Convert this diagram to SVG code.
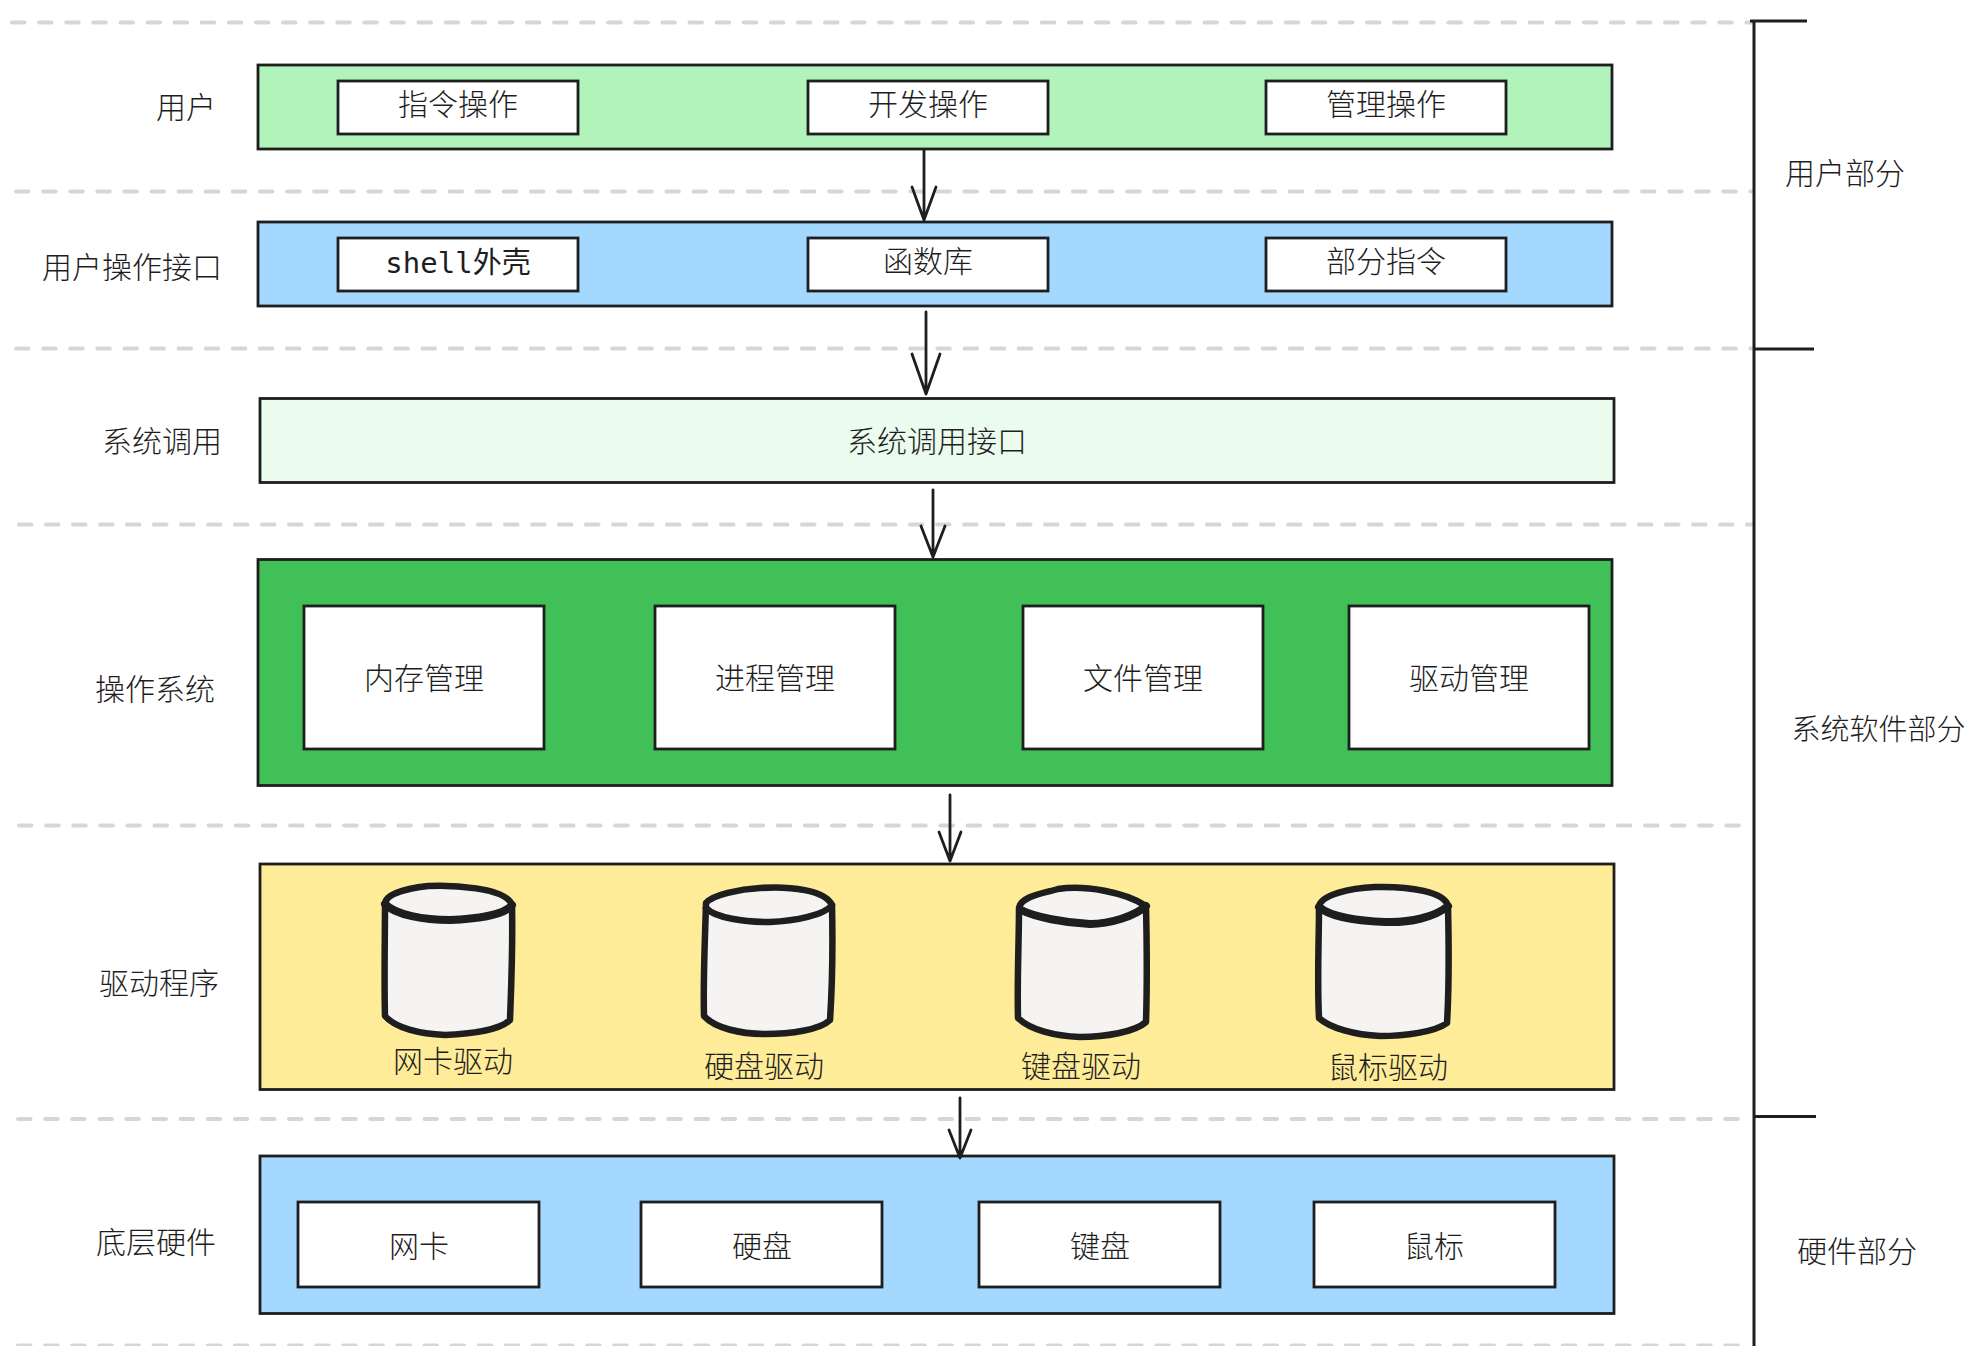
<svg xmlns="http://www.w3.org/2000/svg" width="1966" height="1346" viewBox="0 0 1966 1346">
<style>
text{font-family:"Noto Sans CJK SC","Noto Sans",sans-serif;font-size:30px;font-weight:300;fill:#1e1e1e;text-anchor:middle;dominant-baseline:central}
.mono{font-family:"DejaVu Sans Mono","Noto Sans CJK SC",monospace;font-size:29px;font-weight:400}
.band{stroke:#1e1e1e;stroke-width:2.8}
.box{fill:#fff;stroke:#1e1e1e;stroke-width:2.8}
.dash{stroke:#d3d7da;stroke-width:4;stroke-linecap:round;stroke-dasharray:12.5 14.6;fill:none}
.conn{stroke:#1e1e1e;stroke-width:2.8;fill:none;stroke-linecap:round;stroke-linejoin:round}
.cyl{fill:#f5f4f2;stroke:#1e1e1e;stroke-width:6.5;stroke-linejoin:round;stroke-linecap:round}
.rim{fill:none;stroke:#1e1e1e;stroke-width:8;stroke-linecap:round}
.tick{stroke:#1e1e1e;stroke-width:3;fill:none}
</style>
<g id="guides">
<path class="dash" d="M12 22.500H1752"/>
<path class="dash" d="M16 191.500H1752"/>
<path class="dash" d="M16 348.500H1752"/>
<path class="dash" style="stroke-dasharray:12.5 14.5" d="M19 524.500H1752"/>
<path class="dash" d="M19 825.500H1752"/>
<path class="dash" d="M18 1119H1752"/>
<path class="dash" d="M18 1345.500H1752"/>
</g>
<g id="bracket">
<path class="tick" d="M1754 21V1346M1750 21H1807M1754 349H1814M1754 1116.500H1816"/>
<text x="1845" y="171">用户部分</text>
<text x="1878.500" y="727" style="font-size:29px">系统软件部分</text>
<text x="1857" y="1249">硬件部分</text>
</g>
<g id="row-user">
<rect class="band" x="258" y="65" width="1354" height="84" fill="#b2f2bb"/>
<text x="186" y="105">用户</text>
<g id="user-1"><rect class="box" x="338" y="81" width="240" height="53"/><text x="458" y="102">指令操作</text></g>
<g id="user-2"><rect class="box" x="808" y="81" width="240" height="53"/><text x="928" y="102">开发操作</text></g>
<g id="user-3"><rect class="box" x="1266" y="81" width="240" height="53"/><text x="1386" y="102">管理操作</text></g>
</g>
<g id="row-interface">
<rect class="band" x="258" y="222" width="1354" height="84" fill="#a5d8ff"/>
<text x="132" y="265">用户操作接口</text>
<g id="if-1"><rect class="box" x="338" y="238" width="240" height="53"/><text class="mono" x="458" y="263">shell外壳</text></g>
<g id="if-2"><rect class="box" x="808" y="238" width="240" height="53"/><text x="928" y="259">函数库</text></g>
<g id="if-3"><rect class="box" x="1266" y="238" width="240" height="53"/><text x="1386" y="259">部分指令</text></g>
</g>
<g id="row-syscall">
<rect class="band" x="260" y="398.500" width="1354" height="84" fill="#ebfbee"/>
<text x="162" y="439">系统调用</text>
<text x="937" y="439">系统调用接口</text>
</g>
<g id="row-os">
<rect class="band" x="258" y="559.500" width="1354" height="226" fill="#40c057"/>
<text x="155" y="687">操作系统</text>
<g id="os-1"><rect class="box" x="304" y="606" width="240" height="143"/><text x="424" y="676">内存管理</text></g>
<g id="os-2"><rect class="box" x="655" y="606" width="240" height="143"/><text x="775" y="676">进程管理</text></g>
<g id="os-3"><rect class="box" x="1023" y="606" width="240" height="143"/><text x="1143" y="676">文件管理</text></g>
<g id="os-4"><rect class="box" x="1349" y="606" width="240" height="143"/><text x="1469" y="676">驱动管理</text></g>
</g>
<g id="row-driver">
<rect class="band" x="260" y="864" width="1354" height="225.500" fill="#ffec99"/>
<text x="159" y="981">驱动程序</text>
<g id="drv-1">
<path class="cyl" d="M385 903C387 893 410 888 428 886C450 885 506 887 512 905C513 950 511 990 510 1020C500 1030 470 1034 445 1035C420 1034 395 1028 385 1016C384 980 385 940 385 903Z"/>
<path class="rim" d="M385 904C395 915 425 920 450 920C475 919 505 915 512 905"/>
<text x="453" y="1059">网卡驱动</text>
</g>
<g id="drv-2">
<path class="cyl" d="M706 903C712 895 740 889 760 888C790 886 825 890 832 905C833 950 832 990 830 1020C820 1030 790 1034 765 1034C740 1034 715 1028 704 1016C703 980 705 940 706 903Z"/>
<path class="cyl" style="fill:none" d="M706 908C715 918 745 922 770 922C795 921 825 915 832 905"/>
<text x="764" y="1064">硬盘驱动</text>
</g>
<g id="drv-3">
<path class="cyl" d="M1019 908C1021 896 1045 893 1058 889C1085 885 1125 892 1146 906C1147 950 1147 990 1146 1022C1135 1032 1105 1037 1080 1037C1055 1036 1030 1030 1018 1018C1017 980 1019 940 1019 908Z"/>
<path class="rim" d="M1021 910C1035 917 1065 923 1090 924C1110 924 1135 916 1146 906"/>
<text x="1081" y="1064">键盘驱动</text>
</g>
<g id="drv-4">
<path class="cyl" d="M1319 907C1320 895 1350 888 1375 887C1410 886 1445 892 1448 906C1449 950 1449 990 1447 1023C1435 1032 1405 1036 1380 1036C1355 1035 1330 1028 1319 1018C1317 980 1319 940 1319 907Z"/>
<path class="rim" d="M1319 907C1330 917 1360 921 1385 922C1410 923 1435 917 1448 906"/>
<text x="1388" y="1065">鼠标驱动</text>
</g>
</g>
<g id="row-hardware">
<rect class="band" x="260" y="1156" width="1354" height="157.500" fill="#a5d8ff"/>
<text x="156" y="1240">底层硬件</text>
<g id="hw-1"><rect class="box" x="298" y="1202" width="241" height="85"/><text x="419" y="1244">网卡</text></g>
<g id="hw-2"><rect class="box" x="641" y="1202" width="241" height="85"/><text x="762" y="1244">硬盘</text></g>
<g id="hw-3"><rect class="box" x="979" y="1202" width="241" height="85"/><text x="1100" y="1244">键盘</text></g>
<g id="hw-4"><rect class="box" x="1314" y="1202" width="241" height="85"/><text x="1434" y="1244">鼠标</text></g>
</g>
<g id="connectors">
<path class="conn" d="M924 150V220M912 187L924 220L936 187"/>
<path class="conn" d="M926 312V394M912 354L926 394L940 354"/>
<path class="conn" d="M933 490V557M921 526L933 557L945 526"/>
<path class="conn" d="M950 795V861M939 832L950 861L961 832"/>
<path class="conn" d="M960 1098V1158M949 1130L960 1158L971 1130"/>
</g>
</svg>
